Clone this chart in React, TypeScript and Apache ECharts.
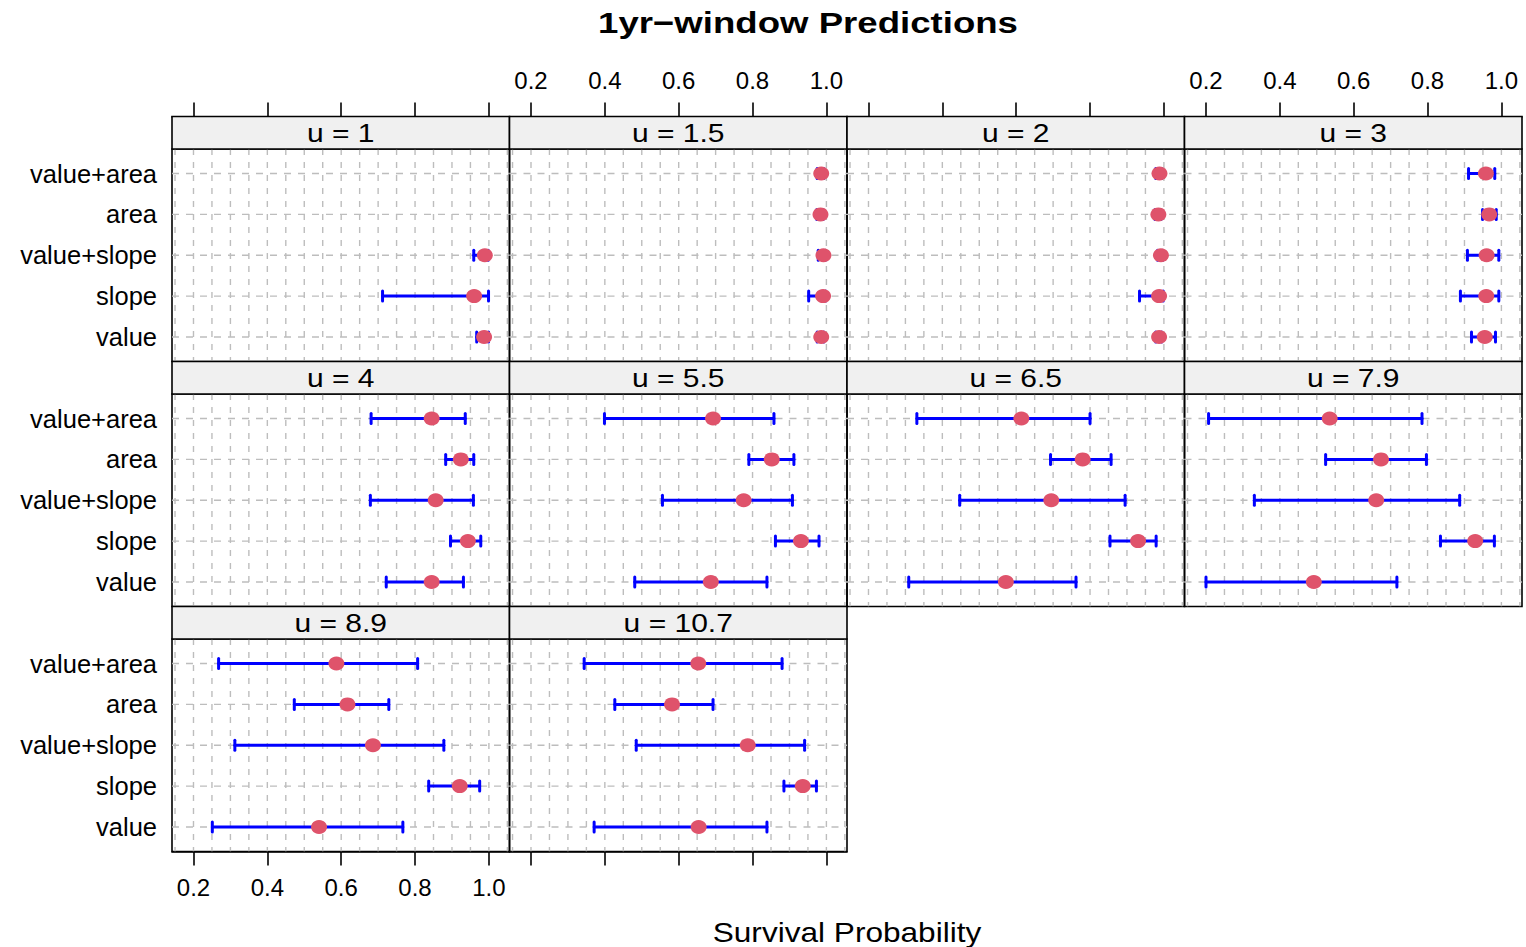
import React, { useEffect, useRef } from "react";
import * as echarts from "echarts";

// Models, bottom (y = 1) to top (y = 5)
const models = ["value", "slope", "value+slope", "area", "value+area"];
const panelTitles = ["u = 1", "u = 1.5", "u = 2", "u = 3", "u = 4", "u = 5.5", "u = 6.5", "u = 7.9", "u = 8.9", "u = 10.7"];

// Estimates per panel, in model order [value, slope, value+slope, area, value+area]
const estimates: (number | null)[][] = [
  [0.987, 0.960, 0.989, null, null],
  [0.986, 0.991, 0.992, 0.984, 0.986],
  [0.987, 0.987, 0.992, 0.985, 0.988],
  [0.955, 0.959, 0.960, 0.967, 0.958],
  [0.845, 0.943, 0.856, 0.924, 0.845],
  [0.687, 0.931, 0.776, 0.852, 0.693],
  [0.572, 0.930, 0.695, 0.780, 0.614],
  [0.492, 0.929, 0.661, 0.674, 0.535],
  [0.540, 0.921, 0.686, 0.617, 0.587],
  [0.654, 0.936, 0.787, 0.582, 0.653],
];
const lowers: (number | null)[][] = [
  [0.967, 0.712, 0.959, null, null],
  [0.975, 0.952, 0.978, 0.974, 0.975],
  [0.978, 0.934, 0.983, 0.976, 0.978],
  [0.919, 0.889, 0.908, 0.949, 0.911],
  [0.722, 0.896, 0.679, 0.883, 0.681],
  [0.481, 0.862, 0.556, 0.790, 0.399],
  [0.309, 0.854, 0.447, 0.693, 0.331],
  [0.200, 0.835, 0.331, 0.524, 0.207],
  [0.251, 0.837, 0.312, 0.473, 0.268],
  [0.371, 0.885, 0.485, 0.427, 0.344],
];
const uppers: (number | null)[][] = [
  [0.999, 0.999, 0.998, null, null],
  [0.993, 0.998, 0.997, 0.991, 0.993],
  [0.994, 0.998, 0.997, 0.992, 0.994],
  [0.984, 0.993, 0.993, 0.986, 0.982],
  [0.931, 0.978, 0.958, 0.959, 0.936],
  [0.839, 0.980, 0.908, 0.912, 0.858],
  [0.762, 0.979, 0.895, 0.857, 0.800],
  [0.717, 0.981, 0.887, 0.797, 0.785],
  [0.767, 0.975, 0.878, 0.729, 0.807],
  [0.839, 0.973, 0.941, 0.693, 0.880],
];

const tickValues = [0.2, 0.4, 0.6, 0.8, 1.0];
const gridValues = [0.15, 0.2, 0.25, 0.3, 0.35, 0.4, 0.45, 0.5, 0.55, 0.6, 0.65, 0.7, 0.75, 0.8, 0.85, 0.9, 0.95, 1.0, 1.05];

const X_MIN = 0.1418;
const X_MAX = 1.0558;
const Y_MIN = 0.4;
const Y_MAX = 5.6;

const FONT = "'Liberation Sans', Arial, Helvetica, sans-serif";
const PT_COLOR = "#DF536B";
const BAR_COLOR = "#0000FF";
const GRID_COLOR = "#bdbdbd";

export default function App() {
  const ref = useRef<HTMLDivElement>(null);
  useEffect(() => {
    if (!ref.current) return;
    const chart = echarts.init(ref.current, null, { renderer: "svg" });

    const colLeft = [172, 509.5, 847, 1184.5];
    const colW = 337.5;
    const stripTop = [116.5, 361.5, 606.5];
    const stripH = 32.5;
    const panelH = 212.5;

    const grids: any[] = [];
    const xAxes: any[] = [];
    const yAxes: any[] = [];
    const series: any[] = [];
    const graphics: any[] = [];

    panelTitles.forEach((title, i) => {
      const row = Math.floor(i / 4);
      const col = i % 4;
      const left = colLeft[col];
      const top = stripTop[row] + stripH;
      grids.push({
        left,
        top,
        width: colW,
        height: panelH,
        show: true,
        borderColor: "#000",
        borderWidth: 1.6,
        backgroundColor: "transparent",
        containLabel: false,
        outerBoundsMode: "none",
      });

      let xPos = "bottom";
      let hasTicks = false;
      let hasLabels = false;
      let offset = 0;
      if (row === 0) {
        xPos = "top";
        hasTicks = true;
        hasLabels = col % 2 === 1;
        offset = stripH;
      } else if (row === 2) {
        xPos = "bottom";
        hasTicks = true;
        hasLabels = col === 0;
      }
      xAxes.push({
        gridIndex: i,
        type: "value",
        min: X_MIN,
        max: X_MAX,
        position: xPos,
        offset,
        axisLine: { show: hasTicks, onZero: false, lineStyle: { color: "#000", width: 1.6 } },
        axisTick: {
          show: hasTicks,
          inside: false,
          length: 14,
          customValues: tickValues,
          lineStyle: { color: "#000", width: 1.6 },
        },
        axisLabel: {
          show: hasLabels,
          customValues: tickValues,
          formatter: (v: number) => v.toFixed(1),
          margin: 24,
          fontSize: 24,
          color: "#000",
          fontFamily: FONT,
        },
        splitLine: { show: false },
      });
      yAxes.push({
        gridIndex: i,
        type: "value",
        min: Y_MIN,
        max: Y_MAX,
        axisLine: { show: false },
        axisTick: { show: false },
        axisLabel: {
          show: col === 0,
          customValues: [1, 2, 3, 4, 5],
          formatter: (v: number) => models[Math.round(v) - 1] ?? "",
          margin: 15,
          fontSize: 25.5,
          color: "#000",
          fontFamily: FONT,
        },
        splitLine: { show: false },
      });

      // vertical reference lines
      series.push({
        type: "custom",
        xAxisIndex: i,
        yAxisIndex: i,
        silent: true,
        z: 1,
        clip: true,
        data: gridValues.map((v) => [v]),
        renderItem: (params: any, api: any) => {
          const v = api.value(0);
          const p1 = api.coord([v, Y_MIN]);
          const p2 = api.coord([v, Y_MAX]);
          return {
            type: "line",
            shape: { x1: p1[0], y1: p2[1], x2: p2[0], y2: p1[1] },
            style: { stroke: GRID_COLOR, lineWidth: 1.4, lineDash: [6, 7] },
          };
        },
      });
      // horizontal reference lines at each model
      series.push({
        type: "custom",
        xAxisIndex: i,
        yAxisIndex: i,
        silent: true,
        z: 1,
        clip: true,
        data: models.map((_, k) => [X_MIN, k + 1]),
        renderItem: (params: any, api: any) => {
          const y = api.value(1);
          const p1 = api.coord([X_MIN, y]);
          const p2 = api.coord([X_MAX, y]);
          return {
            type: "line",
            shape: { x1: p1[0], y1: p1[1], x2: p2[0], y2: p2[1] },
            style: { stroke: GRID_COLOR, lineWidth: 1.4, lineDash: [7, 7] },
          };
        },
      });

      // error bars
      const barData: any[] = [];
      const ptData: any[] = [];
      models.forEach((m, k) => {
        const lo = lowers[i][k];
        const hi = uppers[i][k];
        const est = estimates[i][k];
        if (lo != null && hi != null) barData.push([lo, hi, k + 1]);
        if (est != null) ptData.push([est, k + 1]);
      });
      series.push({
        type: "custom",
        xAxisIndex: i,
        yAxisIndex: i,
        silent: true,
        z: 2,
        encode: { x: [0, 1], y: 2 },
        data: barData,
        renderItem: (params: any, api: any) => {
          const a = api.coord([api.value(0), api.value(2)]);
          const b = api.coord([api.value(1), api.value(2)]);
          const h = 5;
          const st = { stroke: BAR_COLOR, lineWidth: 3, lineCap: "round" };
          return {
            type: "group",
            children: [
              { type: "line", shape: { x1: a[0], y1: a[1], x2: b[0], y2: b[1] }, style: st },
              { type: "line", shape: { x1: a[0], y1: a[1] - h, x2: a[0], y2: a[1] + h }, style: st },
              { type: "line", shape: { x1: b[0], y1: b[1] - h, x2: b[0], y2: b[1] + h }, style: st },
            ],
          };
        },
      });
      series.push({
        type: "scatter",
        xAxisIndex: i,
        yAxisIndex: i,
        silent: true,
        z: 3,
        symbol: "circle",
        symbolSize: [16, 14],
        itemStyle: { color: PT_COLOR, opacity: 1 },
        data: ptData,
      });

      // strip
      graphics.push({
        type: "rect",
        z: 10,
        shape: { x: left, y: stripTop[row], width: colW, height: stripH },
        style: { fill: "#f0f0f0", stroke: "#000", lineWidth: 1.6 },
      });
      graphics.push({
        type: "text",
        z: 11,
        x: left + colW / 2,
        y: stripTop[row] + stripH / 2 + 1,
        scaleX: 1.2,
        style: {
          text: title,
          textAlign: "center",
          textVerticalAlign: "middle",
          font: `25px ${FONT}`,
          fill: "#000",
        },
      });
    });

    graphics.push({
      type: "text",
      x: 808,
      y: 23,
      scaleX: 1.22,
      style: {
        text: "1yr\u2212window Predictions",
        textAlign: "center",
        textVerticalAlign: "middle",
        font: `bold 30px ${FONT}`,
        fill: "#000",
      },
    });
    graphics.push({
      type: "text",
      x: 847,
      y: 932,
      scaleX: 1.17,
      style: {
        text: "Survival Probability",
        textAlign: "center",
        textVerticalAlign: "middle",
        font: `27px ${FONT}`,
        fill: "#000",
      },
    });

    chart.setOption({
      animation: false,
      backgroundColor: "#ffffff",
      grid: grids,
      xAxis: xAxes,
      yAxis: yAxes,
      series,
      graphic: graphics,
    });
    return () => chart.dispose();
  }, []);
  return (
    <div
      ref={ref}
      style={{ position: "absolute", left: 0, top: 0, width: 1526, height: 947 }}
    />
  );
}
